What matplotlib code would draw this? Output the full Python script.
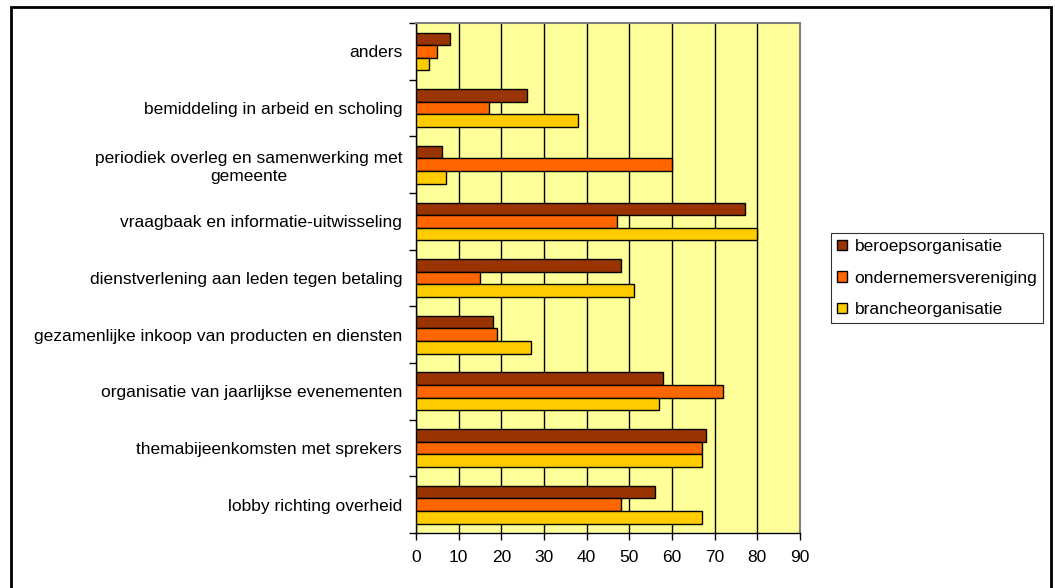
import numpy as np
import matplotlib.pyplot as plt
from matplotlib.patches import Rectangle

plt.rcParams['font.family'] = ['Liberation Sans', 'DejaVu Sans']

categories = [
    'lobby richting overheid',
    'themabijeenkomsten met sprekers',
    'organisatie van jaarlijkse evenementen',
    'gezamenlijke inkoop van producten en diensten',
    'dienstverlening aan leden tegen betaling',
    'vraagbaak en informatie-uitwisseling',
    'periodiek overleg en samenwerking met\ngemeente',
    'bemiddeling in arbeid en scholing',
    'anders',
]
series_names = ['beroepsorganisatie', 'ondernemersvereniging', 'brancheorganisatie']
beroeps = [56, 68, 58, 18, 48, 77, 6, 26, 8]
ondernemers = [48, 67, 72, 19, 15, 47, 60, 17, 5]
branche = [67, 67, 57, 27, 51, 80, 7, 38, 3]
colors = ['#993300', '#FF6600', '#FFCC00']

fs = 12.5

fig = plt.figure(figsize=(10.55, 5.88), dpi=100)
ax = fig.add_axes([0.3943, 0.0935, 0.3640, 0.8673])
ax.set_facecolor('#FFFF99')

y = np.arange(len(categories))
h = 0.222
for off, vals, c, name in zip([h, 0, -h], [beroeps, ondernemers, branche], colors, series_names):
    ax.barh(y + off, vals, height=h, color=c, edgecolor='black', linewidth=1.0,
            label=name, zorder=3)

ax.set_xlim(0, 90)
ax.set_ylim(-0.5, len(categories) - 0.5)
ax.set_xticks(np.arange(0, 91, 10))
ax.xaxis.grid(True, color='black', linewidth=1.0, zorder=1)

# category ticks sit between the groups, labels in the middle
ax.set_yticks(np.arange(-0.5, len(categories), 1.0))
ax.set_yticklabels([])
ax.set_yticks(y, minor=True)
ax.set_yticklabels(categories, minor=True, fontsize=fs)
for lbl in ax.get_yticklabels(minor=True):
    lbl.set_multialignment('center')
ax.tick_params(axis='y', which='minor', length=0, pad=10)
ax.tick_params(axis='y', which='major', length=5, width=1, direction='out', color='black')
ax.tick_params(axis='x', length=5, width=1, direction='out', labelsize=fs, pad=7)

for s in ['top', 'right']:
    ax.spines[s].set_color('#808080')
    ax.spines[s].set_linewidth(1.5)
for s in ['left', 'bottom']:
    ax.spines[s].set_color('black')
    ax.spines[s].set_linewidth(1.0)

leg = fig.legend(loc='upper left', bbox_to_anchor=(831 / 1055, 1 - 233 / 588),
                 fontsize=fs, frameon=True, fancybox=False, edgecolor='black',
                 handlelength=0.55, handleheight=0.55, handletextpad=0.45,
                 labelspacing=0.95, borderpad=0.35, borderaxespad=0)
leg.get_frame().set_linewidth(0.8)

# outer chart frame
fig.patches.append(Rectangle((11 / 1055, -0.01), 1040 / 1055, 1 - 7 / 588 + 0.01,
                             transform=fig.transFigure, fill=False,
                             edgecolor='black', linewidth=2))

fig.savefig('out.png', dpi=100)
